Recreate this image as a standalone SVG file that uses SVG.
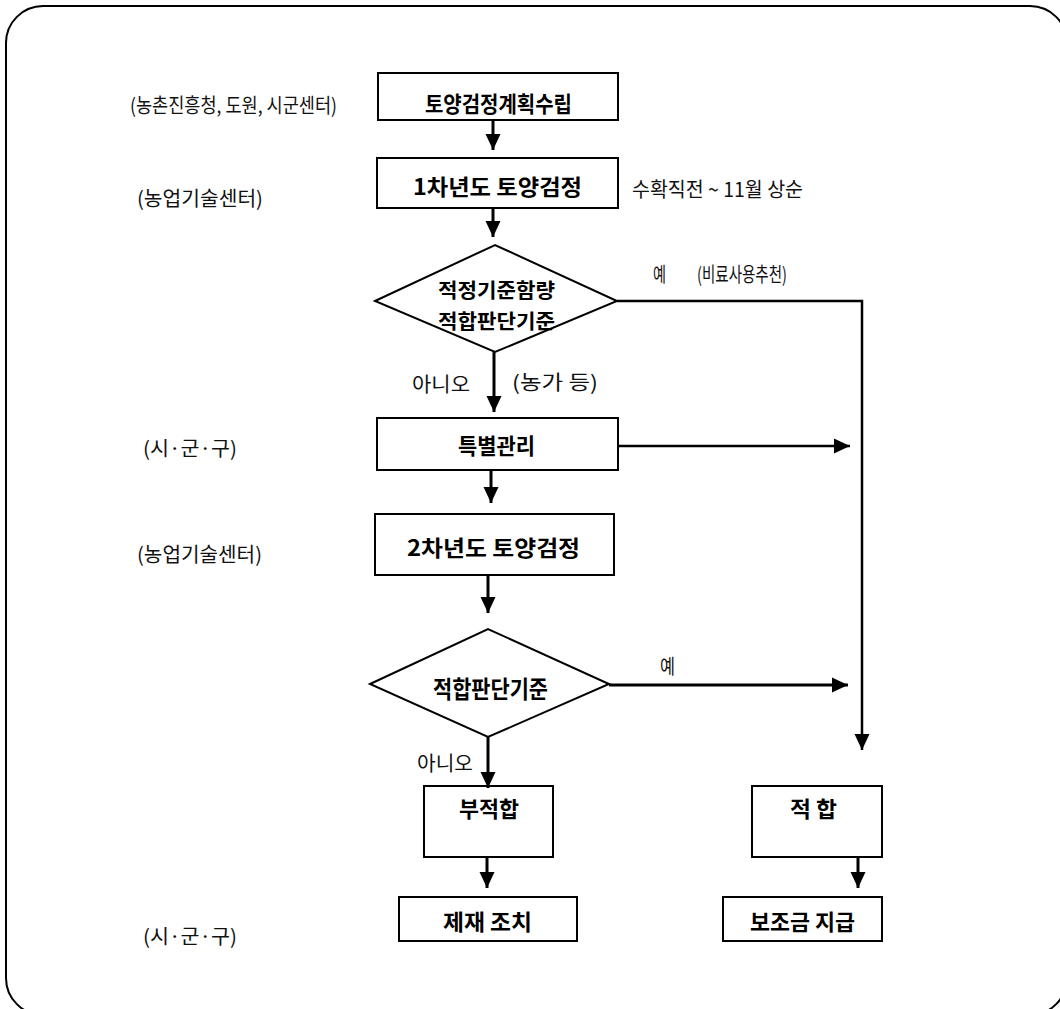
<svg xmlns="http://www.w3.org/2000/svg" width="1060" height="1009" viewBox="0 0 1060 1009">
<defs>
<marker id="ah" markerUnits="userSpaceOnUse" markerWidth="16" markerHeight="16" viewBox="0 0 16 16" refX="16" refY="8" orient="auto">
<path d="M0,0.5 L16,8 L0,15.5 z" fill="#000"/>
</marker>
<style>
.box{fill:#fff;stroke:#000;stroke-width:2}
.dia{fill:#fff;stroke:#000;stroke-width:2}
.ln{fill:none;stroke:#000;stroke-width:2.5}
.lnv{fill:none;stroke:#000;stroke-width:3}
.t{font-family:"Noto Sans CJK KR","Noto Sans",sans-serif;font-size:20px;fill:#111;dominant-baseline:central}
.b{font-family:"Noto Sans CJK KR","Noto Sans",sans-serif;font-size:22px;font-weight:bold;fill:#000;dominant-baseline:central}
.bd{font-family:"Noto Sans CJK KR","Noto Sans",sans-serif;font-size:24px;font-weight:bold;fill:#000;dominant-baseline:central}
.bd2{font-family:"Noto Sans CJK KR","Noto Sans",sans-serif;font-size:20px;font-weight:bold;fill:#000;dominant-baseline:central}
</style>
</defs>
<rect x="6" y="6" width="1061" height="1009" rx="37" ry="37" fill="#fff" stroke="#000" stroke-width="2"/>

<g id="labels">
<text class="t" x="130" y="104" textLength="207" lengthAdjust="spacingAndGlyphs">(농촌진흥청, 도원, 시군센터)</text>
<text class="t" x="137" y="197" textLength="126" lengthAdjust="spacingAndGlyphs">(농업기술센터)</text>
<text class="t" x="632" y="188" textLength="171" lengthAdjust="spacingAndGlyphs">수확직전 ~ 11월 상순</text>
<text class="t" x="653" y="273" textLength="13" lengthAdjust="spacingAndGlyphs">예</text>
<text class="t" x="697" y="273" textLength="90" lengthAdjust="spacingAndGlyphs">(비료사용추천)</text>
<text class="t" x="412" y="383" textLength="58" lengthAdjust="spacingAndGlyphs">아니오</text>
<text class="t" x="512" y="381" textLength="86" lengthAdjust="spacingAndGlyphs">(농가 등)</text>
<text class="t" x="143" y="447" textLength="94" lengthAdjust="spacingAndGlyphs">(시·군·구)</text>
<text class="t" x="137" y="553" textLength="125" lengthAdjust="spacingAndGlyphs">(농업기술센터)</text>
<text class="t" x="660" y="665" textLength="15" lengthAdjust="spacingAndGlyphs">예</text>
<text class="t" x="417" y="762" textLength="56" lengthAdjust="spacingAndGlyphs">아니오</text>
<text class="t" x="143" y="935" textLength="94" lengthAdjust="spacingAndGlyphs">(시·군·구)</text>
</g>

<g id="n1"><rect class="box" x="378" y="73" width="240" height="47"/><text class="b" x="425" y="102" textLength="147" lengthAdjust="spacingAndGlyphs">토양검정계획수립</text></g>
<g id="n2"><rect class="box" x="377" y="158" width="241" height="50"/><text class="b" x="413" y="185" textLength="169" lengthAdjust="spacingAndGlyphs">1차년도 토양검정</text></g>
<g id="d1"><polygon class="dia" points="375,301 495,245 617,301 495,352"/><text class="bd2" x="438" y="289" textLength="117" lengthAdjust="spacingAndGlyphs">적정기준함량</text><text class="bd2" x="438" y="320" textLength="117" lengthAdjust="spacingAndGlyphs">적합판단기준</text></g>
<g id="n3"><rect class="box" x="377" y="418" width="241" height="52"/><text class="b" x="458" y="444" textLength="77" lengthAdjust="spacingAndGlyphs">특별관리</text></g>
<g id="n4"><rect class="box" x="375" y="514" width="239" height="61"/><text class="b" x="407" y="546" textLength="173" lengthAdjust="spacingAndGlyphs">2차년도 토양검정</text></g>
<g id="d2"><polygon class="dia" points="370,684 488,629 609,684 488,737"/><text class="bd" x="433" y="687" textLength="115" lengthAdjust="spacingAndGlyphs">적합판단기준</text></g>
<g id="n5"><rect class="box" x="424" y="786" width="129" height="71"/><text class="b" x="459" y="807" textLength="60" lengthAdjust="spacingAndGlyphs">부적합</text></g>
<g id="n6"><rect class="box" x="752" y="786" width="130" height="71"/><text class="b" x="790" y="807" textLength="47" lengthAdjust="spacingAndGlyphs">적 합</text></g>
<g id="n7"><rect class="box" x="399" y="897" width="178" height="44"/><text class="b" x="443" y="920" textLength="89" lengthAdjust="spacingAndGlyphs">제재 조치</text></g>
<g id="n8"><rect class="box" x="723" y="897" width="159" height="44"/><text class="b" x="750" y="920" textLength="105" lengthAdjust="spacingAndGlyphs">보조금 지급</text></g>

<g id="connectors">
<line class="lnv" x1="493" y1="120" x2="493" y2="150" marker-end="url(#ah)"/>
<line class="lnv" x1="493" y1="208" x2="493" y2="237" marker-end="url(#ah)"/>
<polyline class="ln" points="617,301 862,301 862,750" marker-end="url(#ah)"/>
<line class="lnv" x1="494" y1="352" x2="494" y2="412" marker-end="url(#ah)"/>
<line class="ln" x1="618" y1="446" x2="850" y2="446" marker-end="url(#ah)"/>
<line class="lnv" x1="491" y1="470" x2="491" y2="503" marker-end="url(#ah)"/>
<line class="lnv" x1="488" y1="575" x2="488" y2="613" marker-end="url(#ah)"/>
<line class="lnv" x1="609" y1="685" x2="848" y2="685" marker-end="url(#ah)"/>
<line class="lnv" x1="488" y1="737" x2="488" y2="788" marker-end="url(#ah)"/>
<line class="lnv" x1="487" y1="857" x2="487" y2="888" marker-end="url(#ah)"/>
<line class="lnv" x1="858" y1="857" x2="858" y2="888" marker-end="url(#ah)"/>
</g>
</svg>
